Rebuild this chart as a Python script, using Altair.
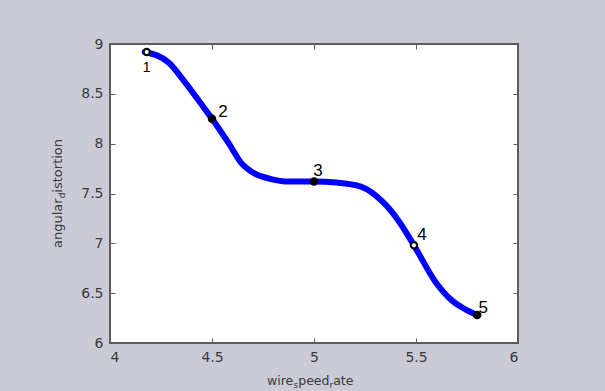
import altair as alt
import pandas as pd

# ---- data ----
curve_x = [4.17, 4.29, 4.37, 4.45, 4.50, 4.58, 4.65, 4.70, 4.78, 4.88, 5.00,
           5.11, 5.23, 5.34, 5.42, 5.49, 5.60, 5.68, 5.74, 5.80]
curve_y = [8.92, 8.81, 8.61, 8.39, 8.25, 8.01, 7.79, 7.71, 7.65, 7.62, 7.62,
           7.61, 7.57, 7.41, 7.21, 6.98, 6.60, 6.42, 6.34, 6.28]

pt_x = [4.18, 4.50, 5.00, 5.49, 5.80]
pt_y = [8.92, 8.25, 7.62, 6.98, 6.28]
pt_label = ["1", "2", "3", "4", "5"]
hollow_labels = ["1", "4"]

x_ticks = [4, 4.5, 5, 5.5, 6]
y_ticks = [6, 6.5, 7, 7.5, 8, 8.5, 9]

x_title_parts = ["wire", "s", "peed", "r", "ate"]
x_title_sub = [False, True, False, True, False]
y_title_parts = ["angular", "d", "istortion"]
y_title_sub = [False, True, False]

# ---- styles ----
BG = "#CBCBD6"
FRAME = "#5c5c5c"
TXT = "#3a3a3a"
W, H = 408, 299
FONT = "DejaVu Sans"

# DejaVu Sans advance widths (em) for laying out the sub-scripted titles
ADV = {"a": .613, "n": .634, "g": .635, "u": .634, "l": .278, "r": .411,
       "i": .278, "s": .521, "t": .392, "o": .612, "d": .635, "e": .615,
       "w": .818, "p": .635}


def adv(s, size):
    return sum(ADV.get(c, .6) for c in s) * size


label_style = {  # dx, dy, fontSize
    "1": (0, 16, 14),
    "2": (11, -7, 17),
    "3": (4, -11, 17),
    "4": (8, -10, 17),
    "5": (6, -7, 17),
}

curve = pd.DataFrame({"x": curve_x, "y": curve_y})
pts = pd.DataFrame({"x": pt_x, "y": pt_y, "label": pt_label})

xs = alt.Scale(domain=[4, 6], nice=False, zero=False)
ys = alt.Scale(domain=[6, 9], nice=False, zero=False)

common = dict(offset=-5, tickSize=5, tickColor=FRAME, tickWidth=1,
              domain=False, grid=False, title=None)

x_bottom = alt.Axis(orient="bottom", values=x_ticks, format="~g",
                    labelFont=FONT, labelFontSize=14, labelColor=TXT,
                    labelPadding=7, **common)
y_left = alt.Axis(orient="left", values=y_ticks, format="~g",
                  labelFont=FONT, labelFontSize=14, labelColor=TXT,
                  labelPadding=7, **common)
x_top = alt.Axis(orient="top", values=x_ticks, labels=False, **common)
y_right = alt.Axis(orient="right", values=y_ticks, labels=False, **common)

line = alt.Chart(curve).mark_line(
    color="#0000FF", strokeWidth=6, strokeCap="round", strokeJoin="round",
    interpolate="monotone"
).encode(
    x=alt.X("x:Q", scale=xs, axis=x_bottom),
    y=alt.Y("y:Q", scale=ys, axis=y_left),
)

points = alt.Chart(pts).mark_point(
    shape="circle", filled=True, size=40, stroke="black", strokeWidth=2.2, opacity=1
).encode(
    x=alt.X("x:Q", scale=xs, axis=x_top),
    y=alt.Y("y:Q", scale=ys, axis=y_right),
    fill=alt.condition(
        alt.FieldOneOfPredicate(field="label", oneOf=hollow_labels),
        alt.value("white"), alt.value("black")),
)

layers = [line, points]

for lab in pt_label:
    dx, dy, fs = label_style[lab]
    layers.append(
        alt.Chart(pts).transform_filter(alt.datum.label == lab).mark_text(
            dx=dx, dy=dy, fontSize=fs, font="Liberation Sans", color="black",
            align="center", baseline="middle"
        ).encode(
            x=alt.X("x:Q", scale=xs, axis=None),
            y=alt.Y("y:Q", scale=ys, axis=None),
            text="label:N",
        )
    )


def title_layers(parts, subs, size, sub_size, x0, y0, angle):
    out = []
    off = 0.0
    for part, sub in zip(parts, subs):
        fs = sub_size if sub else size
        kw = dict(align="left", baseline="alphabetic", fontSize=fs, font=FONT,
                  color=TXT, dx=off, dy=3 if sub else 0)
        if angle:
            kw["angle"] = angle
        out.append(
            alt.Chart(pd.DataFrame({"t": [part]})).mark_text(**kw).encode(
                x=alt.value(x0), y=alt.value(y0), text="t:N")
        )
        off += adv(part, fs)
    return out


# x title starts at screen x≈267, baseline y≈385
layers += title_layers(x_title_parts, x_title_sub, 12.5, 9, 267 - 110, 385 - 44, None)
# y title starts (bottom) at screen y≈248, baseline x≈61.5
layers += title_layers(y_title_parts, y_title_sub, 13, 9, 61.5 - 110, 248 - 44, 270)

chart = alt.layer(*layers).resolve_axis(
    x="independent", y="independent"
).properties(
    width=W, height=H,
    background=BG,
    padding={"left": 110, "top": 44, "right": 605 - 110 - W, "bottom": 391 - 44 - H},
    autosize=alt.AutoSizeParams(type="none"),
).configure_view(
    stroke=FRAME, strokeWidth=2, fill="white"
)

chart.save("out.html", embed_options={"renderer": "svg", "actions": False})
